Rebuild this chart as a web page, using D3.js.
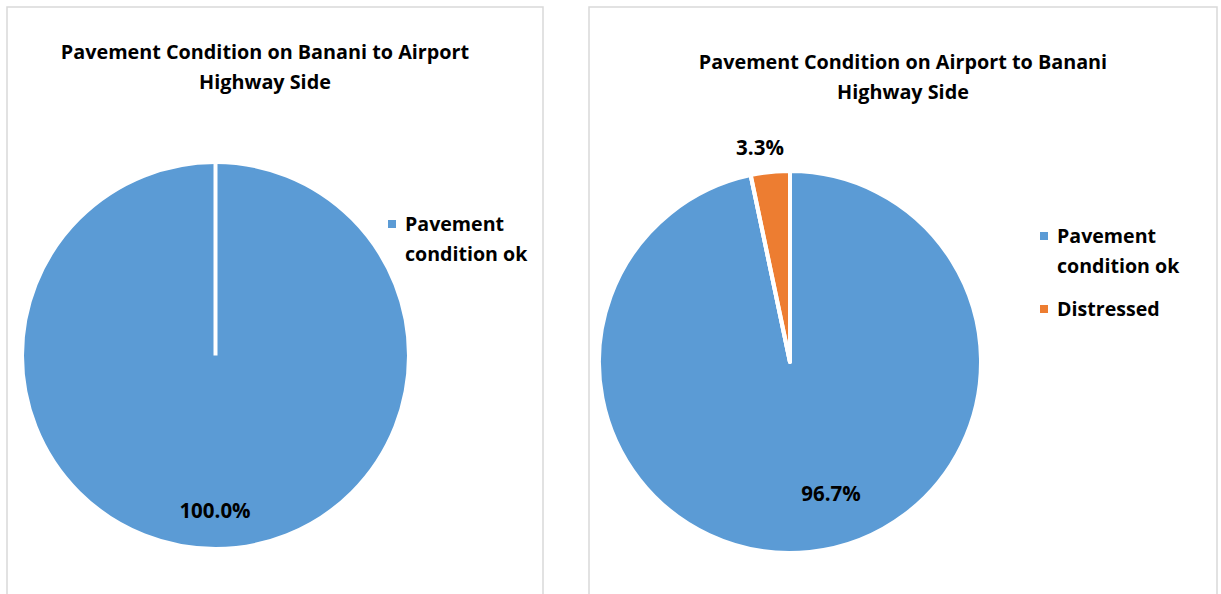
<!DOCTYPE html>
<html>
<head>
<meta charset="utf-8">
<script src="https://cdnjs.cloudflare.com/ajax/libs/d3/7.8.5/d3.min.js"></script>
<style>
  html, body { margin: 0; padding: 0; background: #fff; }
  svg { display: block; font-family: "Open Sans", Lato, sans-serif; }
</style>
</head>
<body>
<svg id="chart" width="1221" height="594"></svg>
<script>
// Pavement condition shares for each direction of the highway
const categories = ["Pavement condition ok", "Distressed"];
const colors = ["#5B9BD5", "#ED7D31"];

const bananiToAirportTitle = ["Pavement Condition on Banani to Airport", "Highway Side"];
const bananiToAirportValues = [100.0];
const bananiToAirportCategories = ["Pavement condition ok"];

const airportToBananiTitle = ["Pavement Condition on Airport to Banani", "Highway Side"];
const airportToBananiValues = [96.7, 3.3];
const airportToBananiCategories = ["Pavement condition ok", "Distressed"];

const svg = d3.select("#chart");
const color = d3.scaleOrdinal().domain(categories).range(colors);

const panels = [
  {
    box: { x: 7, y: 7, w: 536, h: 600 },
    title: bananiToAirportTitle, titleX: 265, titleY: 59,
    values: bananiToAirportValues, cats: bananiToAirportCategories,
    cx: 215.5, cy: 355.5, r: 193.5,
    legendX: 388, legendY: 224,
    labels: [{ x: 215, y: 518 }]
  },
  {
    box: { x: 589, y: 7, w: 628, h: 600 },
    title: airportToBananiTitle, titleX: 903, titleY: 69,
    values: airportToBananiValues, cats: airportToBananiCategories,
    cx: 790, cy: 362, r: 191,
    legendX: 1040, legendY: 236,
    labels: [{ x: 831, y: 501 }, { x: 760, y: 155 }]
  }
];

panels.forEach(p => {
  const g = svg.append("g");

  // chart frame
  g.append("rect")
    .attr("x", p.box.x).attr("y", p.box.y)
    .attr("width", p.box.w).attr("height", p.box.h)
    .attr("fill", "#fff").attr("stroke", "#d9d9d9").attr("stroke-width", 1.5);

  // title
  g.append("text")
    .attr("x", p.titleX).attr("y", p.titleY)
    .attr("text-anchor", "middle")
    .attr("font-weight", "bold").attr("font-size", 19.8).attr("fill", "#000")
    .selectAll("tspan").data(p.title).join("tspan")
    .attr("x", p.titleX).attr("dy", (d, i) => i === 0 ? 0 : 30)
    .text(d => d);

  const data = p.values.map((v, i) => ({ cat: p.cats[i], value: v }));
  const pie = d3.pie().sort(null).value(d => d.value);
  const arcs = pie(data);
  const arc = d3.arc().innerRadius(0).outerRadius(p.r);

  const pg = g.append("g").attr("transform", `translate(${p.cx},${p.cy})`);
  pg.selectAll("path").data(arcs).join("path")
    .attr("d", arc)
    .attr("fill", d => color(d.data.cat))
    .attr("stroke", "#fff").attr("stroke-width", 4)
    .attr("stroke-linejoin", "round");

  // slice boundary edges (also drawn for a single full slice)
  pg.selectAll("line.edge").data(arcs).join("line")
    .attr("class", "edge")
    .attr("x1", 0).attr("y1", 0)
    .attr("x2", d => p.r * Math.sin(d.startAngle))
    .attr("y2", d => -p.r * Math.cos(d.startAngle))
    .attr("stroke", "#fff").attr("stroke-width", 4);

  // data labels
  g.selectAll("text.lbl").data(arcs).join("text")
    .attr("class", "lbl")
    .attr("x", (d, i) => p.labels[i].x).attr("y", (d, i) => p.labels[i].y)
    .attr("text-anchor", "middle")
    .attr("font-weight", "bold").attr("font-size", 20.5).attr("fill", "#000")
    .text(d => d.data.value.toFixed(1) + "%");

  // legend
  const lines = { "Pavement condition ok": ["Pavement", "condition ok"], "Distressed": ["Distressed"] };
  let yy = p.legendY;
  p.cats.forEach(c => {
    const lg = g.append("g");
    lg.append("rect")
      .attr("x", p.legendX).attr("y", yy - 4)
      .attr("width", 8).attr("height", 8)
      .attr("fill", color(c));
    lg.append("text")
      .attr("x", p.legendX + 17).attr("y", yy + 7)
      .attr("font-weight", "bold").attr("font-size", 19.6).attr("fill", "#000")
      .selectAll("tspan").data(lines[c]).join("tspan")
      .attr("x", p.legendX + 17).attr("dy", (d, i) => i === 0 ? 0 : 30)
      .text(d => d);
    yy += lines[c].length * 30 + 13;
  });
});
</script>
</body>
</html>
